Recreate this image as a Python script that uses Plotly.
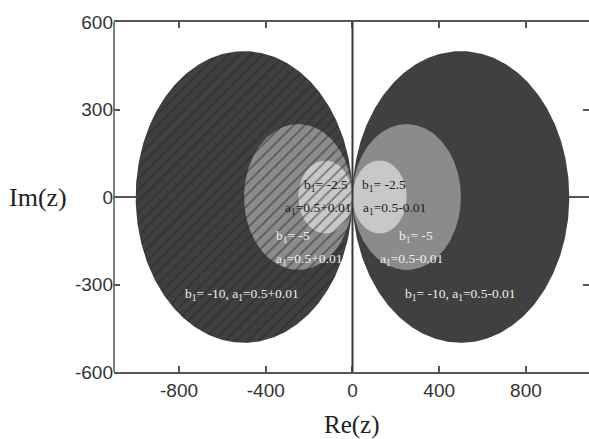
import numpy as np
import plotly.graph_objects as go

# circle data (complex plane): centers on real axis, radii
left_centers = [-500, -250, -125]
left_radii = [500, 250, 125]
right_centers = [500, 250, 125]
right_radii = [500, 250, 125]
fill_colors = ["#404040", "#8b8b8b", "#c8c8c8"]

x_ticks = [-800, -400, 0, 400, 800]
x_ticktext = ["-800", "-400", "0", "400", "800"]
y_ticks = [-600, -300, 0, 300, 600]
y_ticktext = ["-600", "-300", "0", "300", "600"]

# labels: (x, y, text, color)
labels = [
    (-232, 41, "b<sub>1</sub>= -2.5", "#222222"),
    (-320, -41, "a<sub>1</sub>=0.5+0.01", "#222222"),
    (35, 41, "b<sub>1</sub>= -2.5", "#222222"),
    (40, -41, "a<sub>1</sub>=0.5-0.01", "#222222"),
    (-361, -137, "b<sub>1</sub>= -5", "#eeeeee"),
    (-361, -213, "a<sub>1</sub>=0.5+0.01", "#eeeeee"),
    (206, -137, "b<sub>1</sub>= -5", "#eeeeee"),
    (118, -213, "a<sub>1</sub>=0.5-0.01", "#eeeeee"),
    (-781, -333, "b<sub>1</sub>= -10, a<sub>1</sub>=0.5+0.01", "#eeeeee"),
    (234, -333, "b<sub>1</sub>= -10, a<sub>1</sub>=0.5-0.01", "#eeeeee"),
]

theta = np.linspace(0, 2 * np.pi, 361)

fig = go.Figure()
for c, r, col in zip(left_centers, left_radii, fill_colors):
    fig.add_trace(go.Scatter(
        x=c + r * np.cos(theta), y=r * np.sin(theta), mode="lines",
        fill="toself", fillcolor=col, line=dict(width=0, color=col),
        fillpattern=dict(shape="/", bgcolor=col, fgcolor="#262626",
                         size=8, solidity=0.22),
        hoverinfo="skip", showlegend=False))
for c, r, col in zip(right_centers, right_radii, fill_colors):
    fig.add_trace(go.Scatter(
        x=c + r * np.cos(theta), y=r * np.sin(theta), mode="lines",
        fill="toself", fillcolor=col, line=dict(width=0, color=col),
        hoverinfo="skip", showlegend=False))

for x, y, t, col in labels:
    fig.add_annotation(x=x, y=y, text=t, showarrow=False, xanchor="left",
                       yanchor="middle",
                       font=dict(family="Liberation Serif", size=13.5, color=col))

fig.add_annotation(x=-0.095, y=0.5, xref="paper", yref="paper", text="Im(z)",
                   showarrow=False, xanchor="right", yanchor="middle",
                   font=dict(family="Liberation Serif", size=26, color="#222222"))
fig.add_annotation(x=0.5, y=-0.152, xref="paper", yref="paper", text="Re(z)",
                   showarrow=False, xanchor="center", yanchor="middle",
                   font=dict(family="Liberation Serif", size=25, color="#222222"))

# vertical line at Re(z)=0 drawn above everything
fig.add_shape(type="line", x0=0, x1=0, y0=-600, y1=600, xref="x", yref="y",
              line=dict(color="#3a3a3a", width=2), layer="above")
# left border
fig.add_shape(type="line", x0=0, x1=0, y0=0, y1=1, xref="paper", yref="paper",
              line=dict(color="#555555", width=1.5), layer="above")

fig.update_layout(
    width=589, height=439,
    margin=dict(l=114, r=0, t=22, b=67),
    paper_bgcolor="white", plot_bgcolor="white",
    xaxis=dict(range=[-1100, 1091], tickvals=x_ticks, ticktext=x_ticktext,
               ticks="inside",
               ticklen=6, tickcolor="#555555", tickwidth=1.5,
               showline=True, linecolor="#555555", linewidth=1.5,
               mirror="ticks", showgrid=False, zeroline=False,
               tickfont=dict(family="Liberation Sans", size=19, color="#333333")),
    yaxis=dict(range=[-600, 600], tickvals=y_ticks, ticktext=y_ticktext,
               ticks="inside",
               ticklen=6, tickcolor="#555555", tickwidth=1.5,
               showline=False, mirror="ticks", showgrid=False,
               zeroline=True, zerolinecolor="#555555", zerolinewidth=1.5,
               tickfont=dict(family="Liberation Sans", size=19, color="#333333")),
)

fig.write_html("out.html", config={"displayModeBar": False},
               post_script="document.body.style.margin='0px';")
